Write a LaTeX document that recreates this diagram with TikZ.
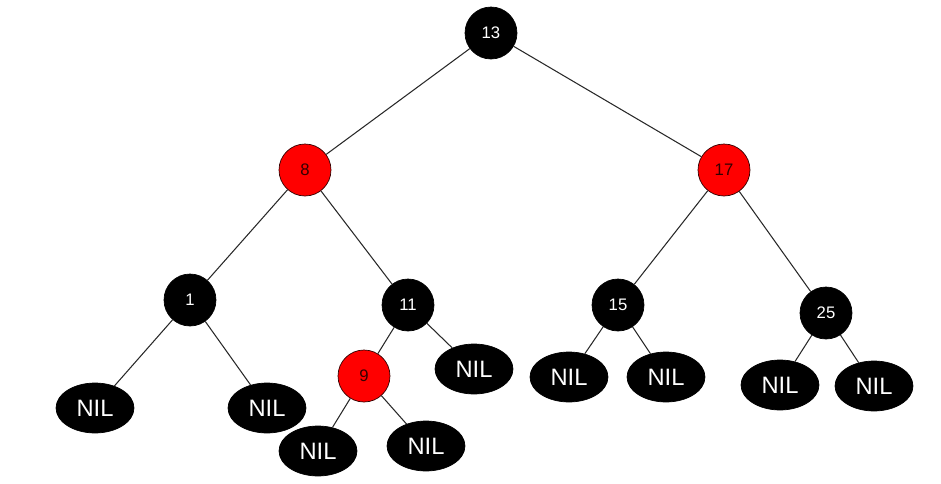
\documentclass[tikz,border=0pt]{standalone}
\usepackage{fontspec}
\setmainfont{Liberation Sans}
\usepackage{xcolor}
\usepackage{tikz}
\usetikzlibrary{shapes.geometric}
\definecolor{rbred}{RGB}{255,0,0}
\definecolor{rbline}{RGB}{40,40,40}

\begin{document}
\begin{tikzpicture}[
        x=0.02cm, y=-0.02cm,
        % Styles
        blacknode/.style={circle, draw=black, fill=black, text=white,
                     minimum size=1.04cm, inner sep=0pt, font=\fontsize{9.5}{11}\selectfont},
        rednode/.style={circle, draw=black!80!red, fill=rbred, text=black!80!red,
                     minimum size=1.04cm, inner sep=0pt, font=\fontsize{9.5}{11}\selectfont},
        nilnode/.style={ellipse, draw=black, fill=black, text=white,
                     minimum width=1.56cm, minimum height=1.0cm, inner sep=0pt, font=\fontsize{13.5}{15}\selectfont},
        edge/.style={draw=rbline, line width=0.6pt},
    ]
    \useasboundingbox (0,0) rectangle (941,484);

    % Inner nodes
    \node[blacknode] (n13) at (491,33) {13};
    \node[rednode] (n8) at (305,170) {8};
    \node[rednode] (n17) at (724,170) {17};
    \node[blacknode] (n1) at (190,300) {1};
    \node[blacknode] (n11) at (408,305) {11};
    \node[rednode] (n9) at (364,376) {9};
    \node[blacknode] (n15) at (618,305) {15};
    \node[blacknode] (n25) at (826,313) {25};

    % Leaves
    \node[nilnode] (nilA) at (95,408) {NIL};
    \node[nilnode] (nilB) at (267,408) {NIL};
    \node[nilnode] (nilC) at (318,451) {NIL};
    \node[nilnode] (nilD) at (426,446) {NIL};
    \node[nilnode] (nilE) at (474,369) {NIL};
    \node[nilnode] (nilF) at (569,377) {NIL};
    \node[nilnode] (nilG) at (666,377) {NIL};
    \node[nilnode] (nilH) at (780,385) {NIL};
    \node[nilnode] (nilI) at (874,386) {NIL};

    % Edges
    \draw[edge] (n13) -- (n8);
    \draw[edge] (n13) -- (n17);
    \draw[edge] (n8) -- (n1);
    \draw[edge] (n8) -- (n11);
    \draw[edge] (n17) -- (n15);
    \draw[edge] (n17) -- (n25);
    \draw[edge] (n1) -- (nilA);
    \draw[edge] (n1) -- (nilB);
    \draw[edge] (n11) -- (n9);
    \draw[edge] (n11) -- (nilE);
    \draw[edge] (n9) -- (nilC);
    \draw[edge] (n9) -- (nilD);
    \draw[edge] (n15) -- (nilF);
    \draw[edge] (n15) -- (nilG);
    \draw[edge] (n25) -- (nilH);
    \draw[edge] (n25) -- (nilI);

\end{tikzpicture}
\end{document}
